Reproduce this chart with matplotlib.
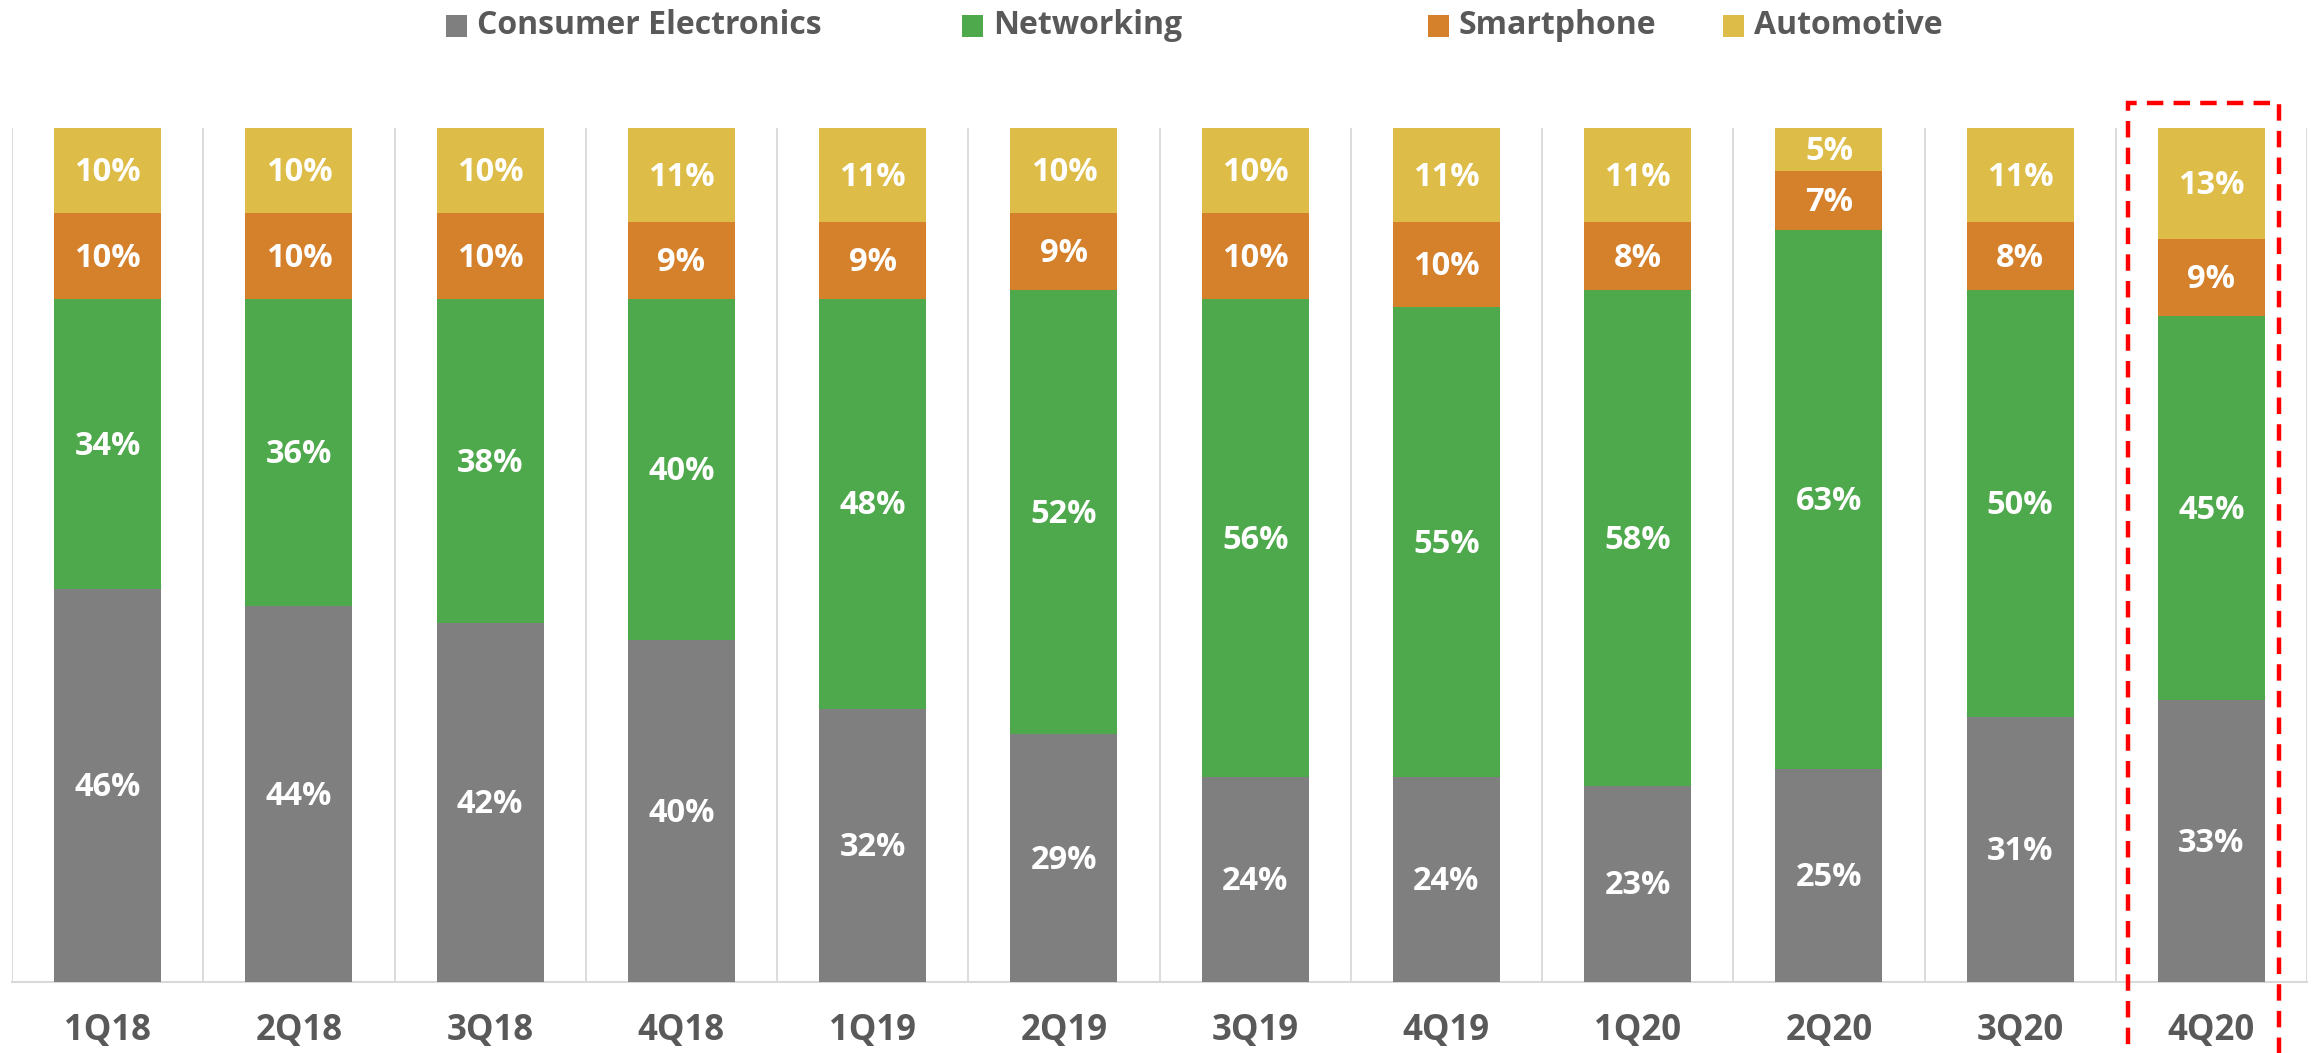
import matplotlib
matplotlib.use("Agg")
import matplotlib.pyplot as plt
from matplotlib.patches import Rectangle

categories = ["1Q18", "2Q18", "3Q18", "4Q18", "1Q19", "2Q19", "3Q19", "4Q19",
              "1Q20", "2Q20", "3Q20", "4Q20"]
consumer = [46, 44, 42, 40, 32, 29, 24, 24, 23, 25, 31, 33]
networking = [34, 36, 38, 40, 48, 52, 56, 55, 58, 63, 50, 45]
smartphone = [10, 10, 10, 9, 9, 9, 10, 10, 8, 7, 8, 9]
automotive = [10, 10, 10, 11, 11, 10, 10, 11, 11, 5, 11, 13]
series_names = ["Consumer Electronics", "Networking", "Smartphone", "Automotive"]
colors = ["#7f7f7f", "#4ea84c", "#d5802b", "#ddbc48"]

plt.rcParams['font.family'] = ['Open Sans', 'DejaVu Sans']

W, H = 2318, 1053
fig = plt.figure(figsize=(W / 100, H / 100), dpi=100)
ax_left, ax_right, ax_top, ax_bottom = 12, 2307, 128, 982
ax = fig.add_axes([ax_left / W, 1 - ax_bottom / H, (ax_right - ax_left) / W,
                   (ax_bottom - ax_top) / H])

x = list(range(len(categories)))
bottoms = [0] * len(categories)
for vals, col in zip([consumer, networking, smartphone, automotive], colors):
    ax.bar(x, vals, bottom=bottoms, width=0.56, color=col, edgecolor='none', zorder=3)
    for xi, v, b in zip(x, vals, bottoms):
        ax.annotate(f"{v}%", (xi, b + v / 2), xytext=(0, -1.5),
                    textcoords='offset points', ha='center', va='center',
                    color='white', fontsize=23.5, fontweight='bold', zorder=4)
    bottoms = [b + v for b, v in zip(bottoms, vals)]

ax.set_xlim(-0.5, len(categories) - 0.5)
ax.set_ylim(0, 100)
for sep in range(len(categories) + 1):
    ax.axvline(sep - 0.5, color='#d9d9d9', lw=1.3, zorder=1)
for s in ['top', 'right', 'left']:
    ax.spines[s].set_visible(False)
ax.spines['bottom'].set_color('#d9d9d9')
ax.spines['bottom'].set_linewidth(1.5)
ax.set_yticks([])
ax.set_xticks(x)
ax.set_xticklabels(categories, fontsize=25, fontweight='bold', color='#595959')
ax.tick_params(axis='x', length=0, pad=22)

# legend (manual placement)
sq_x = [446, 962, 1428, 1723]
sq = 21
cy = 26
for xs, name, col in zip(sq_x, series_names, colors):
    fig.patches.append(Rectangle((xs / W, 1 - (cy + sq / 2) / H), sq / W, sq / H,
                                 transform=fig.transFigure, facecolor=col,
                                 edgecolor='none'))
    fig.text((xs + sq + 10) / W, 1 - cy / H, name, ha='left', va='center',
             fontsize=23, fontweight='bold', color='#595959')

# dashed highlight box
bx0, bx1, by0, by1 = 2128, 2279, 103, 1070
fig.patches.append(Rectangle((bx0 / W, 1 - by1 / H), (bx1 - bx0) / W, (by1 - by0) / H,
                             transform=fig.transFigure, facecolor='none',
                             edgecolor='#ff0000', lw=3.2,
                             linestyle=(0, (3.7, 2.3)), clip_on=False, zorder=10))

fig.savefig("out.png", dpi=100)
